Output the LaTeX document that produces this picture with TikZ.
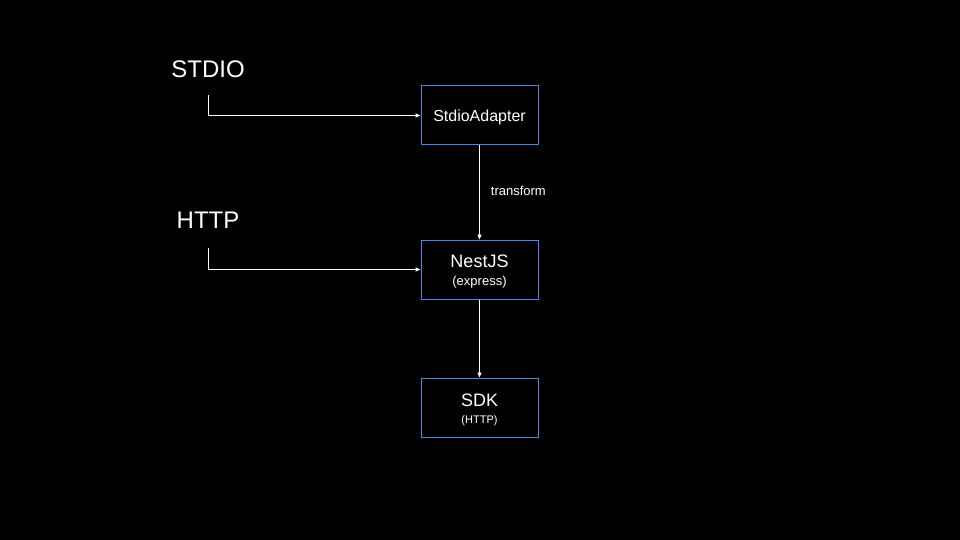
\documentclass[tikz,border=0pt]{standalone}
\usepackage{fontspec}
\setmainfont{Liberation Sans}
\usetikzlibrary{arrows.meta}
\definecolor{boxblue}{HTML}{4A86E8}

\begin{document}
\begin{tikzpicture}[x=1pt, y=-1pt,
    box/.style={draw=boxblue, line width=1pt, minimum width=117pt,
      minimum height=59pt, inner sep=0pt, align=center, text=white},
    flow/.style={draw=white, line width=0.8pt,
      -{Triangle[length=5pt, width=4pt]}},
    src/.style={text=white, inner sep=0pt, font=\fontsize{24}{28}\selectfont}]
  \def\xbox{479.5}
  \def\xsrc{208}

  \fill[black] (0,0) rectangle (960,540);
  \useasboundingbox (0,0) rectangle (960,540);

  \node[src] (stdio) at (\xsrc, 69) {STDIO};
  \node[src] (http)  at (\xsrc, 220) {HTTP};

  \node[box, text depth=0pt] (adapter) at (\xbox, 115.5)
    {\fontsize{16}{19}\selectfont StdioAdapter};
  \node[box, text height=32pt, text depth=0pt] (nest) at (\xbox, 269.5)
    {\fontsize{18}{20}\selectfont NestJS\\[6pt]
    \fontsize{13}{16}\selectfont (express)};
  \node[box, text height=31.6pt, text depth=0pt] (sdk) at (\xbox, 407.5)
    {\fontsize{18}{20}\selectfont SDK\\[5pt]
    \fontsize{11}{15}\selectfont (HTTP)};

  \coordinate (stdiotail) at (\xsrc, 95);
  \coordinate (httptail)  at (\xsrc, 248);

  \draw[flow] (stdiotail) |- (adapter.west);
  \draw[flow] (httptail) |- (nest.west);

  \draw[flow] (adapter) -- node[anchor=west, text=white, inner sep=0pt,
    xshift=11pt, yshift=2pt, font=\fontsize{13}{15}\selectfont] (transform) {transform} (nest);
  \draw[flow] (nest) -- (sdk);
\end{tikzpicture}
\end{document}
